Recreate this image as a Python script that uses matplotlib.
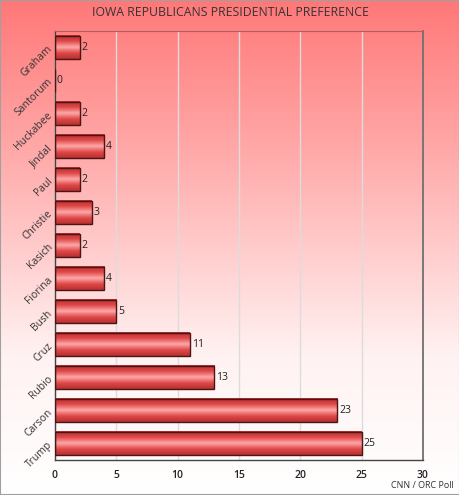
import numpy as np
import matplotlib
matplotlib.use("Agg")
import matplotlib.pyplot as plt
from matplotlib.colors import LinearSegmentedColormap

plt.rcParams['font.family'] = ['Open Sans', 'DejaVu Sans']

candidates = ["Graham", "Santorum", "Huckabee", "Jindal", "Paul", "Christie",
              "Kasich", "Fiorina", "Bush", "Cruz", "Rubio", "Carson", "Trump"]
support = [2, 0, 2, 4, 2, 3, 2, 4, 5, 11, 13, 23, 25]
xticks = [0, 5, 10, 15, 20, 25, 30]

fig = plt.figure(figsize=(4.6, 4.95), dpi=100)

# background gradient, pink at top fading to white
bg = fig.add_axes([0, 0, 1, 1], zorder=0)
grad = np.linspace(0, 1, 256).reshape(-1, 1)
bg_cmap = LinearSegmentedColormap.from_list(
    "bg", [(0, "#ff7878"), (0.3, "#ffa8a8"), (0.72, "#fff2f2"), (1, "#ffffff")])
bg.imshow(grad, aspect="auto", cmap=bg_cmap, extent=[0, 1, 0, 1], origin="upper")
bg.set_axis_off()
fig.patches.append(plt.Rectangle((0, 0), 1, 1, transform=fig.transFigure,
                                 fill=False, edgecolor="#a0a0a0", lw=1.5, zorder=10))

ax = fig.add_axes([55/460, 35/495, 368/460, 429/495], zorder=1)
ax.patch.set_alpha(0)

y = np.arange(len(candidates))
h = 0.7
bars = ax.barh(y, support, height=h, color="none", edgecolor="#4a1515", lw=1, zorder=3)

# cylinder-like shading for each bar
bar_cmap = LinearSegmentedColormap.from_list(
    "bar", ["#b83030", "#e04848", "#ffa8a8", "#e04848", "#b83030"])
shade = np.linspace(0, 1, 64).reshape(-1, 1)
for yi, v in zip(y, support):
    if v > 0:
        ax.imshow(shade, aspect="auto", cmap=bar_cmap,
                  extent=[0, v, yi + h/2, yi - h/2], zorder=2, interpolation="bilinear")
    ax.text(v + 0.15, yi, str(v), va="center", ha="left", fontsize=7.5, color="#222222", zorder=4)

ax.set_xlim(0, 30)
ax.set_ylim(len(candidates) - 0.5, -0.5)
ax.set_xticks(xticks)
ax.set_xticklabels([str(t) for t in xticks], fontsize=7.5, fontweight="semibold", color="#222222")
ax.set_yticks(y)
ax.set_yticklabels(candidates, rotation=45, ha="right", va="center",
                   rotation_mode="anchor", fontsize=7.5, color="#333333")
ax.tick_params(axis="x", length=0, pad=7)
ax.tick_params(axis="y", length=0, pad=3)
ax.grid(axis="x", color="#dcdcdc", lw=1, zorder=1)
ax.set_axisbelow(True)
for s in ["left", "bottom"]:
    ax.spines[s].set_color("#444444")
    ax.spines[s].set_linewidth(1)
ax.spines["right"].set_color("#707070")
ax.spines["right"].set_linewidth(1.3)
ax.spines["top"].set_color("#b06060")
ax.spines["top"].set_linewidth(0.8)

fig.text(0.5, 1 - 13/495, "IOWA REPUBLICANS PRESIDENTIAL PREFERENCE",
         ha="center", va="center", fontsize=8.8, color="#333333")
fig.text(1 - 6/460, 10/495, "CNN / ORC Poll", ha="right", va="center",
         fontsize=6.5, color="#333333")

fig.savefig("out.png", dpi=100)
